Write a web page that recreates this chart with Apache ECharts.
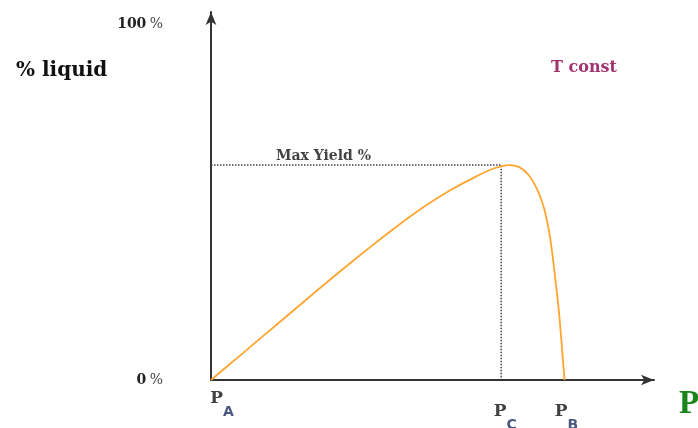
<!DOCTYPE html>
<html><head><meta charset="utf-8">
<script src="https://cdn.jsdelivr.net/npm/echarts@6/dist/echarts.min.js"></script>
<style>html,body{margin:0;padding:0;background:#fff}#c{width:698px;height:428px}</style>
</head><body><div id="c"></div>
<script>
// Data (x: pressure in arbitrary units 0..100, y: % liquid)
const curveX = [0, 6, 12, 18, 24, 30, 36, 42, 48, 54, 60, 64, 67.3, 69.6, 71.7, 73.5, 75.1, 76.2, 77.0, 77.8, 78.5, 79.2, 79.8];
const curveY = [0, 6.3, 12.6, 18.9, 25.2, 31.4, 37.4, 43.2, 48.6, 53.3, 57.3, 59.5, 60.4, 59.8, 57.6, 53.9, 48.6, 42.5, 36.0, 27.5, 19.7, 9.5, 0];
const maxYield = 60.4;
const pointNames = ['A', 'C', 'B'];
const pointX = [0, 65.5, 79.8];
const yTicks = [0, 100];
const maxYieldLabel = 'Max Yield %';
const maxYieldLabelX = 25.4;

const serif = '"DejaVu Serif", "Liberation Serif", serif';
const chart = echarts.init(document.getElementById('c'));
const curve = curveX.map((x, i) => [x, curveY[i]]);
const pOffsets = [[11, 25], [4, 38], [2, 38]];

chart.setOption({
  animation: false,
  title: [
    { text: '% liquid', left: 11, top: 56, textStyle: { fontFamily: serif, fontWeight: 'bold', fontSize: 20, color: '#111' } },
    { text: 'T const', left: 546, top: 55, textStyle: { fontFamily: serif, fontWeight: 'bold', fontSize: 16, color: '#a3336f' } }
  ],
  grid: { left: 211, right: 44, top: 12, bottom: 48, containLabel: false, outerBoundsMode: 'none' },
  xAxis: {
    type: 'value', min: 0, max: 100,
    name: 'P', nameLocation: 'end', nameGap: 25,
    nameTextStyle: { fontFamily: '"Liberation Serif", serif', fontWeight: 'bold', fontSize: 33, color: '#1a851a', verticalAlign: 'top', padding: [8, 0, 0, 0] },
    axisLine: { lineStyle: { color: '#333', width: 2 }, symbol: ['none', 'arrow'], symbolSize: [8, 13] },
    axisTick: { show: false }, axisLabel: { show: false }, splitLine: { show: false }
  },
  yAxis: {
    type: 'value', min: 0, max: 103.4, interval: 100,
    axisLine: { lineStyle: { color: '#333', width: 2 }, symbol: ['none', 'arrow'], symbolSize: [8, 13] },
    axisTick: { show: false }, splitLine: { show: false },
    axisLabel: {
      margin: 48,
      formatter: v => yTicks.includes(v) ? '{b|' + v + '} {p|%}' : '',
      rich: {
        b: { fontFamily: serif, fontWeight: 'bold', fontSize: 14, color: '#222' },
        p: { fontFamily: serif, fontSize: 14, color: '#444' }
      }
    }
  },
  series: [
    {
      type: 'line', data: [[0, maxYield], [pointX[1], maxYield], [pointX[1], 0]],
      symbol: 'none', silent: true,
      lineStyle: { color: '#444', width: 1.5, type: 'dotted' }
    },
    {
      type: 'line', data: curve, smooth: 0.3, symbol: 'none',
      lineStyle: { color: '#ffa530', width: 1.8 }
    },
    {
      type: 'scatter', symbolSize: 0, silent: true,
      data: [{
        value: [maxYieldLabelX, maxYield],
        label: { show: true, position: 'top', distance: 2, formatter: maxYieldLabel, fontFamily: serif, fontWeight: 'bold', fontSize: 14, color: '#111' }
      }].concat(pointX.map((x, i) => ({
        value: [x, 0],
        label: {
          show: true, position: 'inside', offset: pOffsets[i],
          formatter: '{p|P}{s|' + pointNames[i] + '}',
          rich: {
            p: { fontFamily: serif, fontWeight: 'bold', fontSize: 17, color: '#111', verticalAlign: 'top' },
            s: { fontFamily: '"DejaVu Sans", sans-serif', fontWeight: 'bold', fontSize: 14, color: '#1a2d5e', padding: [15, 0, 0, 0] }
          }
        }
      })))
    }
  ]
});
</script>
</body></html>
